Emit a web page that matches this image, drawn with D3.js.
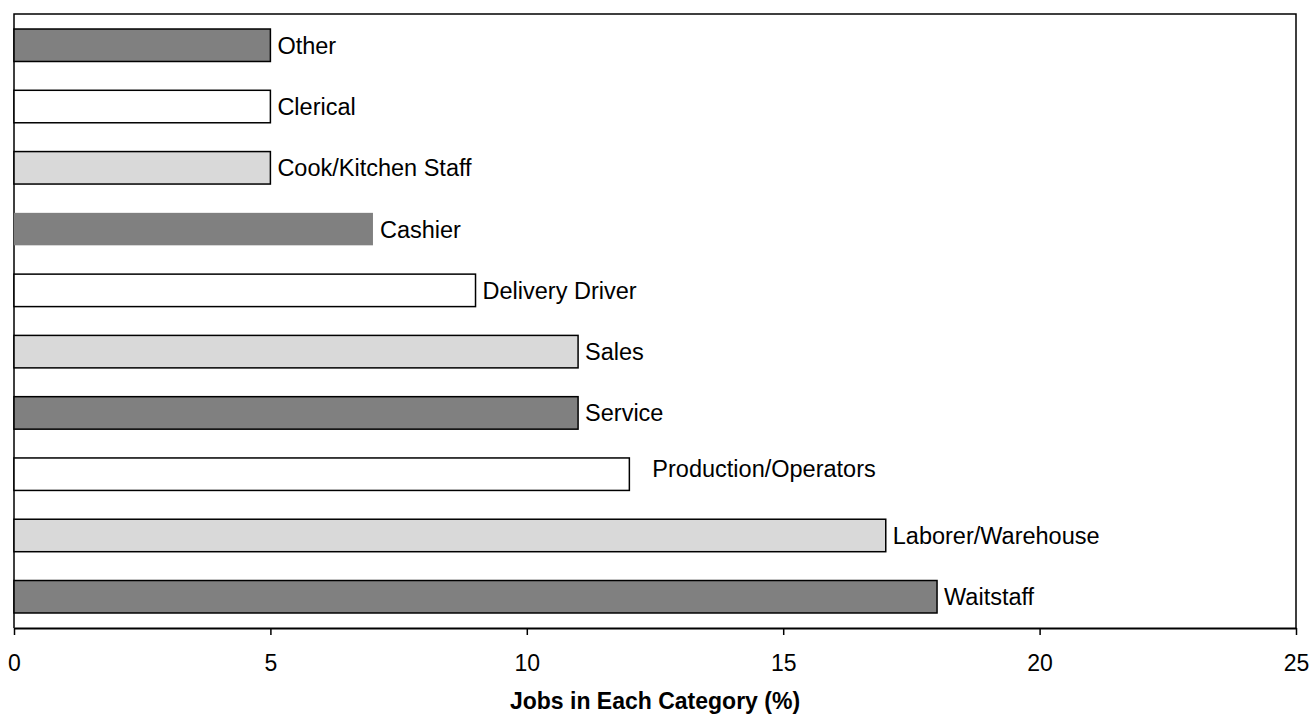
<!DOCTYPE html>
<html>
<head>
<meta charset="utf-8">
<script src="https://cdn.jsdelivr.net/npm/d3@7"></script>
<style>
  body { margin: 0; background: #fff; }
  svg { font-family: "Liberation Sans", Arial, sans-serif; }
</style>
</head>
<body>
<svg id="chart" width="1310" height="715"></svg>
<script>
// categories from top to bottom, values in percent
const categories = ['Other', 'Clerical', 'Cook/Kitchen Staff', 'Cashier', 'Delivery Driver',
  'Sales', 'Service', 'Production/Operators', 'Laborer/Warehouse', 'Waitstaff'];
const values = [5, 5, 5, 7, 9, 11, 11, 12, 17, 18];
const xTicks = [0, 5, 10, 15, 20, 25];
const fills = ['#808080', '#ffffff', '#d9d9d9'];

const svg = d3.select('#chart');
const width = +svg.attr('width');
const height = +svg.attr('height');
const margin = { top: 14, right: 14, bottom: 87, left: 14 };

const x = d3.scaleLinear()
    .domain([0, 25])
    .range([margin.left, width - margin.right]);

const y = d3.scaleBand()
    .domain(categories)
    .range([margin.top, height - margin.bottom])
    .paddingInner(0.47)
    .paddingOuter(0.245);

const data = categories.map((c, i) => ({ name: c, value: values[i], i }));

// frame: top, left, right
svg.append('path')
    .attr('d', `M${x(0)},${height - margin.bottom}V${margin.top}H${x(25)}V${height - margin.bottom}`)
    .attr('fill', 'none')
    .attr('stroke', '#000')
    .attr('stroke-width', 1.5);

svg.append('g')
  .selectAll('rect')
    .data(data)
  .enter().append('rect')
    .attr('x', x(0))
    .attr('y', d => y(d.name))
    .attr('width', d => x(d.value) - x(0))
    .attr('height', y.bandwidth())
    .attr('fill', d => fills[d.i % 3])
    .attr('stroke', d => d.name === 'Cashier' ? 'none' : '#000')
    .attr('stroke-width', 1.5);

// bar labels (Production/Operators sits a bit off the bar end)
svg.append('g')
  .selectAll('text')
    .data(data)
  .enter().append('text')
    .attr('x', d => x(d.value) + (d.name === 'Production/Operators' ? 23 : 7))
    .attr('y', d => y(d.name) + y.bandwidth() / 2 + (d.name === 'Production/Operators' ? -6 : 0))
    .attr('dy', '0.36em')
    .style('font-size', '23.5px')
    .attr('fill', '#000')
    .text(d => d.name);

const xAxis = svg.append('g')
    .attr('transform', `translate(0,${height - margin.bottom})`)
    .call(d3.axisBottom(x).tickValues(xTicks).tickSize(7).tickPadding(20).tickSizeOuter(0));
xAxis.select('.domain').attr('stroke-width', 2);
xAxis.selectAll('.tick line').attr('stroke-width', 1.5);
xAxis.selectAll('text')
    .style('font-size', '23px')
    .style('font-family', '"Liberation Sans", Arial, sans-serif')
    .attr('fill', '#000');

svg.append('text')
    .attr('x', (x(0) + x(25)) / 2)
    .attr('y', 709)
    .attr('text-anchor', 'middle')
    .style('font-size', '23px')
    .style('font-weight', 'bold')
    .text('Jobs in Each Category (%)');
</script>
</body>
</html>
